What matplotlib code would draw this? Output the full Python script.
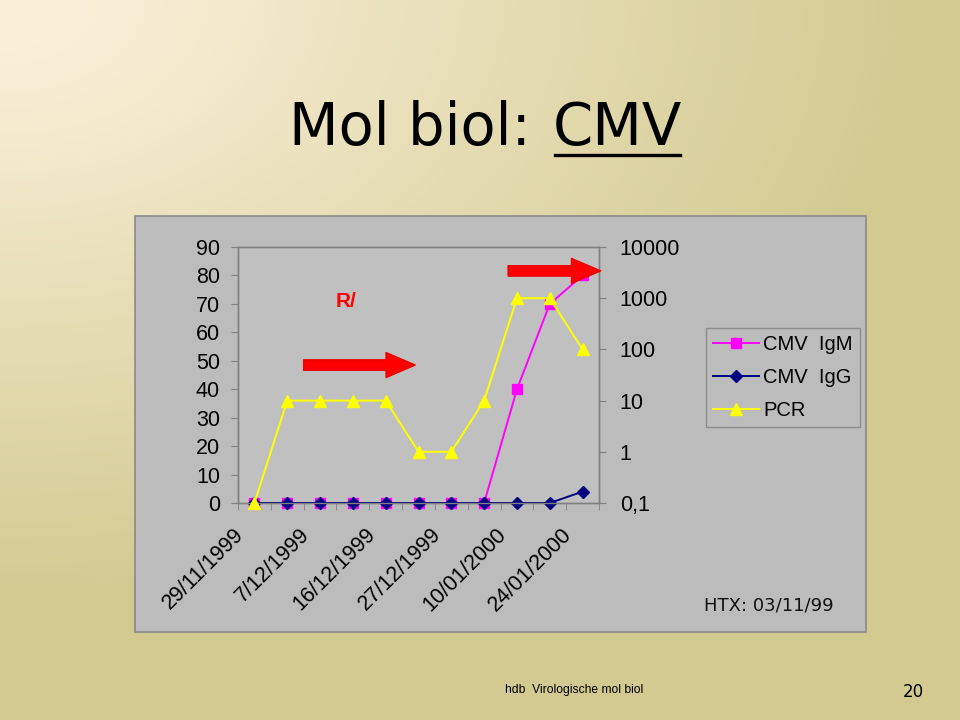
import numpy as np
import matplotlib.pyplot as plt
from matplotlib.patches import Rectangle
from matplotlib.lines import Line2D
from matplotlib.transforms import ScaledTranslation

# data
dates = ['29/11/1999', '', '7/12/1999', '', '16/12/1999', '', '27/12/1999', '',
         '10/01/2000', '', '24/01/2000']
igm = [0, 0, 0, 0, 0, 0, 0, 0, 40, 70, 80]
igg = [0, 0, 0, 0, 0, 0, 0, 0, 0, 0, 4]
pcr = [0.1, 10, 10, 10, 10, 1, 1, 10, 1000, 1000, 100]
left_ticks = [0, 10, 20, 30, 40, 50, 60, 70, 80, 90]
right_ticks = [0.1, 1, 10, 100, 1000, 10000]
right_labels = ['0,1', '1', '10', '100', '1000', '10000']

W, H = 960, 720
fig = plt.figure(figsize=(W / 100, H / 100), dpi=100)

# slide background gradient
bg = fig.add_axes([0, 0, 1, 1], zorder=-10)
yy, xx = np.mgrid[0:H, 0:W]
t = np.clip((np.sqrt((xx / W) ** 2 + (yy / H * 1.15) ** 2) - 0.08) / 0.87, 0, 1)
c0 = np.array([250, 240, 217]) / 255
c1 = np.array([211, 202, 146]) / 255
img = c0[None, None, :] * (1 - t[..., None]) + c1[None, None, :] * t[..., None]
bg.imshow(img, aspect='auto', extent=[0, W, H, 0])
bg.set_xlim(0, W)
bg.set_ylim(H, 0)
bg.axis('off')

# gray chart panel
bg.add_patch(Rectangle((135, 216), 731, 416, facecolor='#bcbcbc',
                       edgecolor='#8a8a8a', lw=1.2))

# title
bg.text(531, 128, 'Mol biol:', ha='right', va='center', fontsize=41.5,
        family='DejaVu Sans', color='black')
cmv = bg.text(553, 128, 'CMV', ha='left', va='center', fontsize=41.5,
              family='DejaVu Sans', color='black')
fig.canvas.draw()
bb = cmv.get_window_extent().transformed(bg.transData.inverted())
bg.plot([bb.x0 + 2, bb.x1 - 2], [155, 155], color='black', lw=2.4)

bg.text(704, 606, 'HTX: 03/11/99', ha='left', va='center', fontsize=13,
        family='DejaVu Sans', color='#111111')
bg.text(505, 690, 'hdb  Virologische mol biol', ha='left', va='center',
        fontsize=8.7, family='Liberation Sans', color='black')
bg.text(913, 692, '20', ha='center', va='center', fontsize=12,
        family='DejaVu Sans', color='black')

# chart
ax = fig.add_axes([238 / W, 1 - 503 / H, 361 / W, 256 / H])
ax.set_facecolor('#c0c0c0')
x = np.arange(len(dates))

ax.plot(x, igm, color='#ff00ff', lw=1.4, marker='s', ms=7, mec='#ff00ff',
        mfc='#ff00ff', clip_on=False, zorder=3, label='CMV IgM')
ax.plot(x, igg, color='#000080', lw=1.4, marker='D', ms=6.5, mec='#000080',
        mfc='#000080', clip_on=False, zorder=4, label='CMV IgG')
ax.set_xlim(-0.5, len(dates) - 0.5)
ax.set_ylim(0, 90)
ax.set_yticks(left_ticks)

ax2 = ax.twinx()
ax2.plot(x, pcr, color='#ffff00', lw=1.4, marker='^', ms=9, mec='#ffff00',
         mfc='#ffff00', clip_on=False, zorder=3, label='PCR')
ax2.set_yscale('log')
ax2.set_ylim(0.1, 10000)
ax2.set_yticks(right_ticks)
ax2.set_yticklabels(right_labels)
ax2.minorticks_off()

for a in (ax, ax2):
    for s in a.spines.values():
        s.set_color('#808080')
        s.set_linewidth(1.0)
ax.set_xticks(x[::2])
ax.set_xticklabels(dates[::2], rotation=45, ha='right', va='top',
                   rotation_mode='anchor', family='Liberation Sans', fontsize=15.5)
ax.set_xticks(np.arange(-0.5, len(dates)), minor=True)
ax.tick_params(axis='x', which='major', length=0, pad=15)
ax.tick_params(axis='x', which='minor', length=5, color='#808080', direction='out')
ax.tick_params(axis='y', length=5, color='#808080', pad=8, labelsize=15.5)
ax2.tick_params(axis='y', length=5, color='#808080', pad=10, labelsize=15.5)
for lab in ax.get_yticklabels() + ax2.get_yticklabels():
    lab.set_family('Liberation Sans')
for lab in ax.get_xticklabels():
    lab.set_transform(lab.get_transform() + ScaledTranslation(-0.21, 0, fig.dpi_scale_trans))

# red arrows and R/ label
arrow = dict(arrowstyle='simple,head_length=2.1,head_width=1.8,tail_width=0.75',
             mutation_scale=10, fc='#ff0000', ec='#ee0000', shrinkA=0, shrinkB=0)
ax2.annotate('', xy=(4.9, 10 ** (48.5 / 90 * 5 - 1)), xytext=(1.5, 10 ** (48.5 / 90 * 5 - 1)),
             arrowprops=arrow, annotation_clip=False)
ax2.annotate('', xy=(10.55, 10 ** (81.6 / 90 * 5 - 1)), xytext=(7.73, 10 ** (81.6 / 90 * 5 - 1)),
             arrowprops=arrow, annotation_clip=False)
ax.text(2.79, 70.7, 'R/', color='#ff0000', fontsize=15, fontweight='bold',
        family='Liberation Sans', ha='center', va='center')

handles = [Line2D([], [], color='#ff00ff', lw=1.4, marker='s', ms=7),
           Line2D([], [], color='#000080', lw=1.4, marker='D', ms=6.5),
           Line2D([], [], color='#ffff00', lw=1.4, marker='^', ms=9)]
leg = fig.legend(handles, ['CMV  IgM', 'CMV  IgG', 'PCR'],
                 loc='upper left', bbox_to_anchor=(706 / W, 1 - 328 / H),
                 prop={'family': 'Liberation Sans', 'size': 14.5},
                 frameon=True, fancybox=False, edgecolor='#8c8c8c',
                 facecolor='#bcbcbc', framealpha=1, handlelength=2.3,
                 borderpad=0.35, labelspacing=0.7, handletextpad=0.2,
                 borderaxespad=0)
leg.get_frame().set_linewidth(1.0)

fig.savefig('out.png', dpi=100)
